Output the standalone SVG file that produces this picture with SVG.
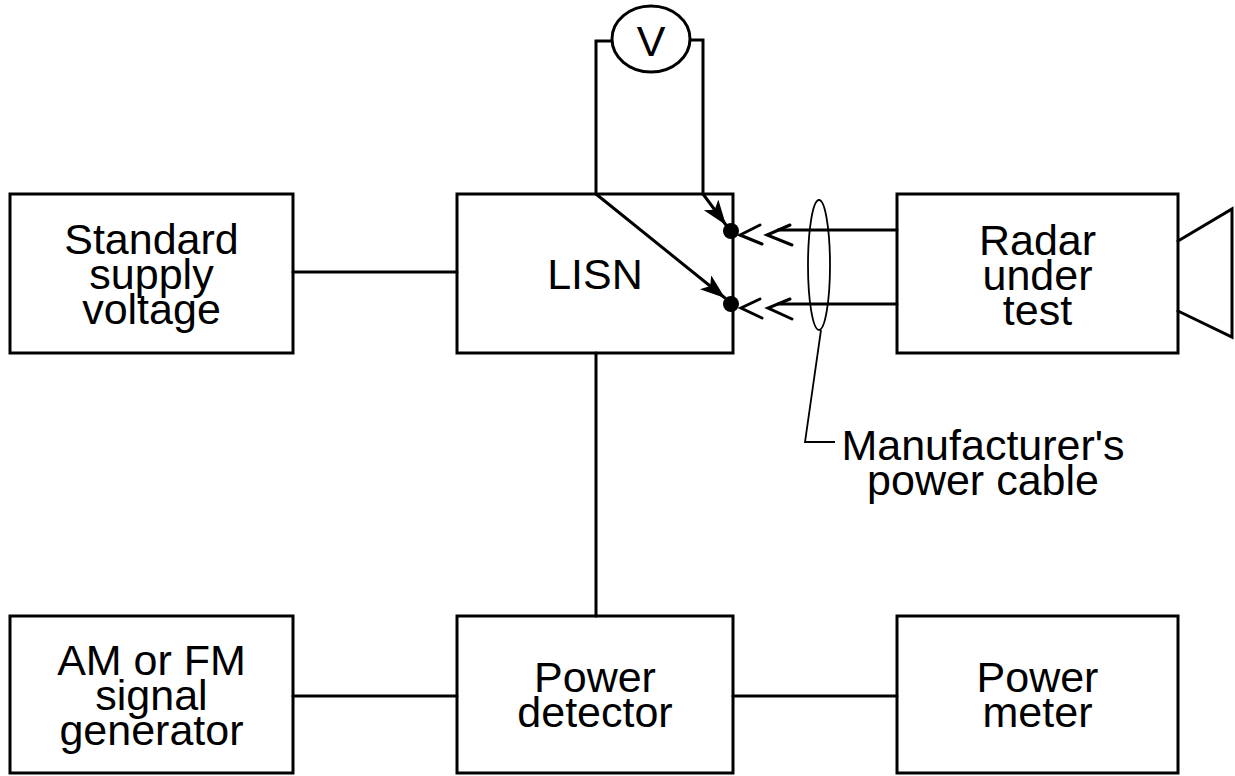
<svg xmlns="http://www.w3.org/2000/svg" width="1235" height="776" viewBox="0 0 1235 776">
<style>
.box{fill:none;stroke:#000;stroke-width:3}
.ln{fill:none;stroke:#000;stroke-width:3;stroke-linecap:round;stroke-linejoin:miter}
.thin{fill:none;stroke:#000;stroke-width:1.8}
.t{font-family:"Liberation Sans",Arial,Helvetica,sans-serif;font-size:43px;fill:#000;text-anchor:middle}
.dot{fill:#000}
</style>
<defs>
<marker id="ah" markerWidth="28" markerHeight="20" refX="25" refY="9" orient="auto" markerUnits="userSpaceOnUse">
<path d="M0,0 L25,9 L0,18 L6,9 Z" fill="#000"/>
</marker>
</defs>
<rect width="1235" height="776" fill="#fff"/>
<g id="connectors">
<line class="ln" x1="293" y1="272" x2="457" y2="272"/>
<line class="ln" x1="596" y1="353" x2="596" y2="616"/>
<line class="ln" x1="293" y1="696" x2="457" y2="696"/>
<line class="ln" x1="733" y1="696" x2="897" y2="696"/>
<polyline class="ln" points="596,194 596,41 612,41"/>
<polyline class="ln" points="690,40 703,40 703,194"/>
<line class="ln" x1="703" y1="194" x2="726" y2="225" marker-end="url(#ah)"/>
<line class="ln" x1="596" y1="194" x2="725" y2="298" marker-end="url(#ah)"/>
<line class="ln" x1="778" y1="230" x2="897" y2="230"/>
<line class="ln" x1="778" y1="304" x2="897" y2="304"/>
<polyline class="ln" points="760,225 740,235 762,244"/>
<polyline class="ln" points="790,225 767,235 792,245"/>
<polyline class="ln" points="760,299 741,308 762,318"/>
<polyline class="ln" points="790,299 768,308 792,319"/>
</g>
<g id="node-standard">
<rect class="box" x="10" y="194" width="283" height="159"/>
<text class="t" x="151.5" y="254">Standard<tspan x="151.5" dy="35">supply</tspan><tspan x="151.5" dy="35">voltage</tspan></text>
</g>
<g id="node-lisn">
<rect class="box" x="457" y="194" width="276" height="159"/>
<text class="t" x="595" y="289">LISN</text>
<circle class="dot" cx="731" cy="231" r="8"/>
<circle class="dot" cx="731" cy="304" r="8"/>
</g>
<g id="node-voltmeter">
<ellipse cx="651" cy="39" rx="39" ry="33" fill="#fff" stroke="#000" stroke-width="3"/>
<text class="t" x="651" y="56">V</text>
</g>
<g id="node-radar">
<rect class="box" x="897" y="194" width="281" height="159"/>
<text class="t" x="1037.5" y="255">Radar<tspan x="1037.5" dy="35">under</tspan><tspan x="1037.5" dy="35">test</tspan></text>
<polyline class="ln" points="1178,241 1232,209 1232,337 1178,311"/>
</g>
<g id="node-cable">
<ellipse class="thin" cx="819" cy="265" rx="11" ry="65"/>
<polyline class="thin" points="821,330 805,442 835,442"/>
<text class="t" x="983" y="460">Manufacturer's<tspan x="983" dy="35">power cable</tspan></text>
</g>
<g id="node-am">
<rect class="box" x="10" y="616" width="283" height="157"/>
<text class="t" x="151.5" y="675">AM or FM<tspan x="151.5" dy="35">signal</tspan><tspan x="151.5" dy="35">generator</tspan></text>
</g>
<g id="node-detector">
<rect class="box" x="457" y="616" width="276" height="157"/>
<text class="t" x="595" y="692">Power<tspan x="595" dy="35">detector</tspan></text>
</g>
<g id="node-meter">
<rect class="box" x="897" y="616" width="281" height="157"/>
<text class="t" x="1037.5" y="692">Power<tspan x="1037.5" dy="35">meter</tspan></text>
</g>
</svg>
